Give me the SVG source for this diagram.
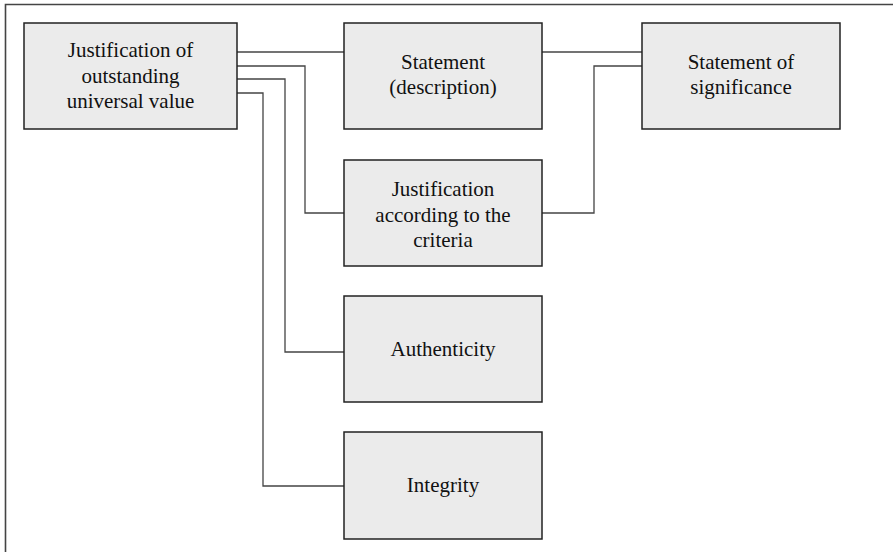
<svg xmlns="http://www.w3.org/2000/svg" width="893" height="552" viewBox="0 0 893 552">
<style>
.box{fill:#ebebeb;stroke:#222;stroke-width:1.5}
.t{font-family:"Liberation Serif","Times New Roman",serif;font-size:21px;fill:#111;text-anchor:middle}
.c{fill:none;stroke:#444;stroke-width:1.3}
.frame{fill:none;stroke:#444;stroke-width:1.6}
</style>
<rect width="893" height="552" fill="#fff"/>
<path class="frame" d="M5.5,560 V4.5 H900"/>
<g id="connectors">
<path class="c" d="M237,52 H344"/>
<path class="c" d="M237,66 H305 V213 H344"/>
<path class="c" d="M237,79 H285 V352 H344"/>
<path class="c" d="M237,93 H263 V486 H344"/>
<path class="c" d="M542,52 H642"/>
<path class="c" d="M542,213 H594 V66 H642"/>
</g>
<g id="justification-ouv">
<rect class="box" x="24" y="23" width="213" height="106"/>
<text class="t" x="130.5" y="57">Justification of</text>
<text class="t" x="130.5" y="82.5">outstanding</text>
<text class="t" x="130.5" y="108">universal value</text>
</g>
<g id="statement">
<rect class="box" x="344" y="23" width="198" height="106"/>
<text class="t" x="443" y="69">Statement</text>
<text class="t" x="443" y="94">(description)</text>
</g>
<g id="statement-significance">
<rect class="box" x="642" y="23" width="198" height="106"/>
<text class="t" x="741" y="69">Statement of</text>
<text class="t" x="741" y="94">significance</text>
</g>
<g id="justification-criteria">
<rect class="box" x="344" y="160" width="198" height="106"/>
<text class="t" x="443" y="196">Justification</text>
<text class="t" x="443" y="221.5">according to the</text>
<text class="t" x="443" y="247">criteria</text>
</g>
<g id="authenticity">
<rect class="box" x="344" y="296" width="198" height="106"/>
<text class="t" x="443" y="355.5">Authenticity</text>
</g>
<g id="integrity">
<rect class="box" x="344" y="432" width="198" height="107"/>
<text class="t" x="443" y="492">Integrity</text>
</g>
</svg>
